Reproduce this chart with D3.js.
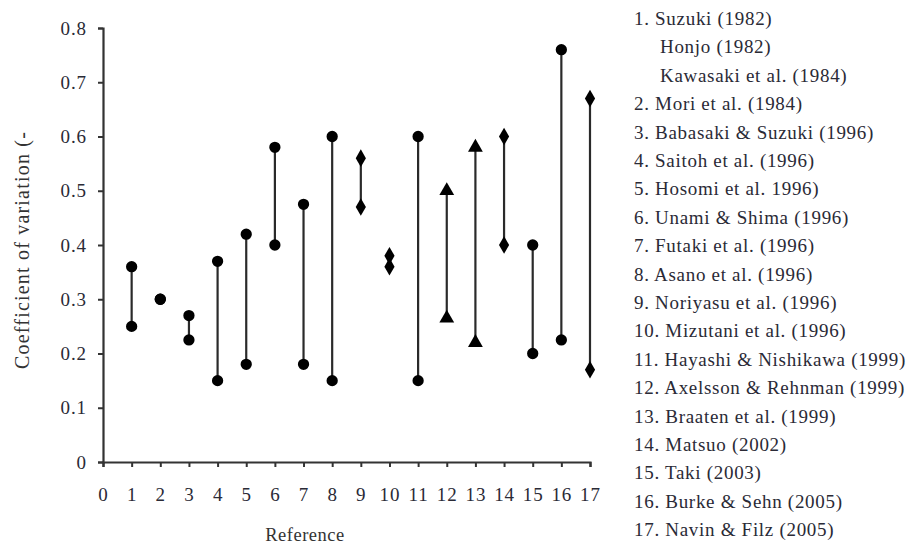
<!DOCTYPE html>
<html>
<head>
<meta charset="utf-8">
<script src="https://cdn.jsdelivr.net/npm/d3@7"></script>
</head>
<body style="margin:0; background:#fff">
<svg id="chart" width="916" height="545"></svg>
<script>
// reference number, high and low CV, marker shape
const refs = [1, 2, 3, 4, 5, 6, 7, 8, 9, 10, 11, 12, 13, 14, 15, 16, 17];
const highs = [0.36, 0.30, 0.27, 0.37, 0.42, 0.58, 0.475, 0.60, 0.56, 0.38, 0.60, 0.50, 0.58, 0.60, 0.40, 0.76, 0.67];
const lows = [0.25, 0.30, 0.225, 0.15, 0.18, 0.40, 0.18, 0.15, 0.47, 0.36, 0.15, 0.265, 0.22, 0.40, 0.20, 0.225, 0.17];
const shapes = ["circle", "circle", "circle", "circle", "circle", "circle", "circle", "circle",
  "diamond", "diamond", "circle", "triangle", "triangle", "diamond", "circle", "circle", "diamond"];
const xTicks = d3.range(0, 18);
const yTicks = [0, 0.1, 0.2, 0.3, 0.4, 0.5, 0.6, 0.7, 0.8];
const legendItems = [
  "1. Suzuki (1982)", "Honjo (1982)", "Kawasaki et al. (1984)",
  "2. Mori et al. (1984)", "3. Babasaki & Suzuki (1996)", "4. Saitoh et al. (1996)",
  "5. Hosomi et al. 1996)", "6. Unami & Shima (1996)", "7. Futaki et al. (1996)",
  "8. Asano et al. (1996)", "9. Noriyasu et al. (1996)", "10. Mizutani et al. (1996)",
  "11. Hayashi & Nishikawa (1999)", "12. Axelsson & Rehnman (1999)", "13. Braaten et al. (1999)",
  "14. Matsuo (2002)", "15. Taki (2003)", "16. Burke & Sehn (2005)", "17. Navin & Filz (2005)"
];

const FONT = '"Liberation Serif"';
const TEXT = "#2a2a36";

const data = refs.map((r, i) => ({ ref: r, high: highs[i], low: lows[i], shape: shapes[i] }));

const svg = d3.select("#chart");
const margin = { top: 28, left: 103 };
const width = 487, height = 434;

const g = svg.append("g").attr("transform", `translate(${margin.left},${margin.top})`);

const x = d3.scaleLinear().domain([0, 17]).range([0, width]);
const y = d3.scaleLinear().domain([0, 0.8]).range([height, 0]);

const yAxis = g.append("g")
  .call(d3.axisLeft(y).tickValues(yTicks).tickSize(5).tickPadding(11)
    .tickFormat(d => d === 0 ? "0" : d3.format(".1f")(d)));
const xAxis = g.append("g")
  .attr("transform", `translate(0,${height})`)
  .call(d3.axisBottom(x).tickValues(xTicks).tickSize(5).tickPadding(21));

[yAxis, xAxis].forEach(a => {
  a.attr("font-family", null).attr("font-size", null);
  a.select(".domain").attr("stroke", "#333").attr("stroke-width", 2.2);
  a.selectAll(".tick line").attr("stroke", "#333").attr("stroke-width", 2);
  a.selectAll("text").style("font-size", "19px").style("letter-spacing", "0.9px").attr("fill", TEXT);
});

g.selectAll(".range")
  .data(data.filter(d => d.high !== d.low))
  .enter()
  .append("line")
  .attr("class", "range")
  .attr("x1", d => x(d.ref))
  .attr("x2", d => x(d.ref))
  .attr("y1", d => y(d.high))
  .attr("y2", d => y(d.low))
  .attr("stroke", "#2a2a2a")
  .attr("stroke-width", 2.2);

const symbolType = { circle: d3.symbolCircle, diamond: d3.symbolDiamond, triangle: d3.symbolTriangle };
const symbolSize = { circle: 100, diamond: 90, triangle: 95 };

const points = data.flatMap(d => [
  { ref: d.ref, v: d.high, shape: d.shape },
  { ref: d.ref, v: d.low, shape: d.shape }
]);

g.selectAll(".pt")
  .data(points)
  .enter()
  .append("path")
  .attr("class", "pt")
  .attr("transform", d => `translate(${x(d.ref)},${y(d.v)})`)
  .attr("d", d => d3.symbol().type(symbolType[d.shape]).size(symbolSize[d.shape])())
  .attr("fill", "#000");

// axis titles
svg.append("text")
  .attr("transform", "translate(29,250) rotate(-90)")
  .attr("text-anchor", "middle")
  .style("font-size", "20px")
  .style("letter-spacing", "1.2px")
  .attr("fill", "#333")
  .text("Coefficient of variation (-");

svg.append("text")
  .attr("x", 305)
  .attr("y", 541)
  .attr("text-anchor", "middle")
  .style("font-size", "18.5px")
  .style("letter-spacing", "0.5px")
  .attr("fill", "#333")
  .text("Reference");

// legend list
svg.append("g")
  .selectAll("text")
  .data(legendItems)
  .enter()
  .append("text")
  .attr("x", d => /^\d/.test(d) ? 634 : 660)
  .attr("y", (d, i) => 25 + i * 28.4)
  .style("font-size", "19px")
  .style("letter-spacing", "0.7px")
  .attr("fill", TEXT)
  .text(d => d);

svg.selectAll("text").style("font-family", FONT);
</script>
</body>
</html>
